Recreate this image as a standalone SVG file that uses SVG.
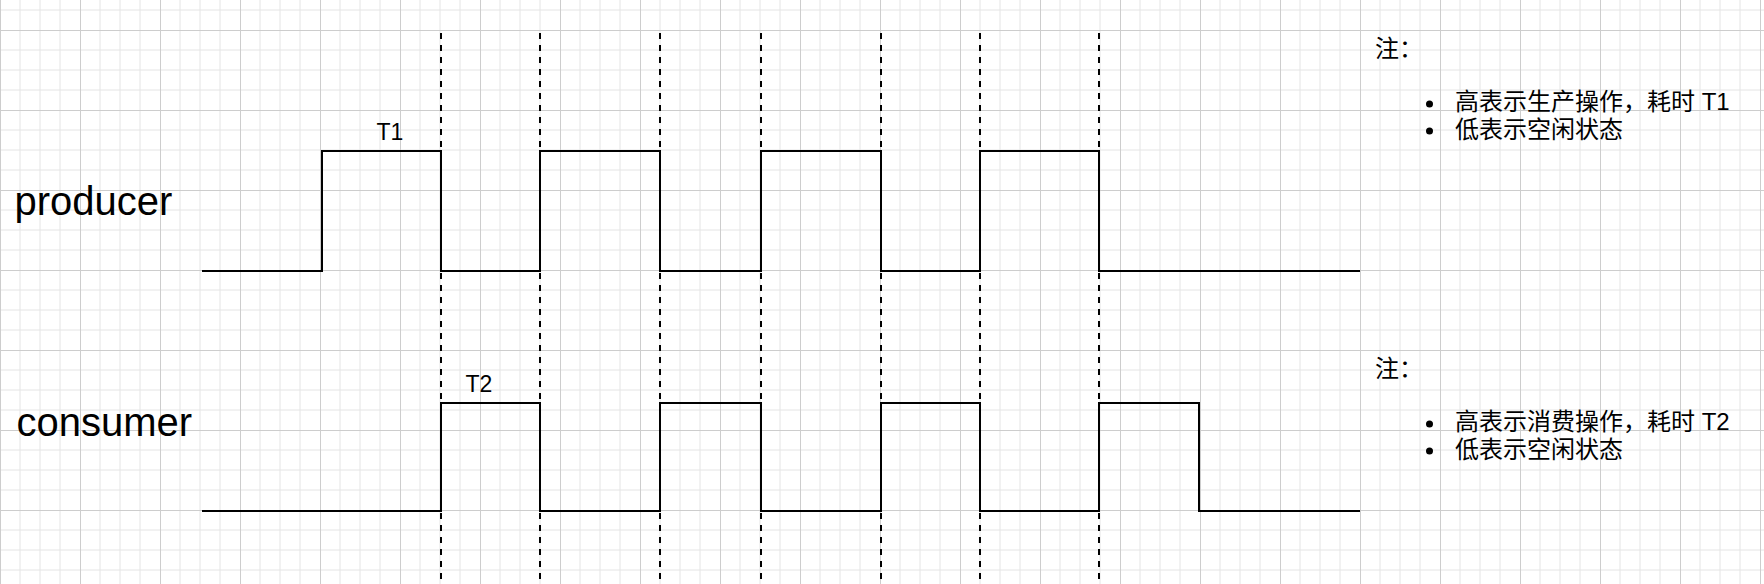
<svg xmlns="http://www.w3.org/2000/svg" width="1764" height="584" viewBox="0 0 1764 584">
  <style>
    .wave { fill: none; stroke: #000; stroke-width: 2; stroke-linejoin: miter; }
    .dash { fill: none; stroke: #000; stroke-width: 2; stroke-dasharray: 6 6; }
    .big { font-family: "Liberation Sans", Arial, sans-serif; font-size: 40px; fill: #000; }
    .tl { font-family: "Liberation Sans", Arial, sans-serif; font-size: 23px; fill: #000; }
    .note { font-family: "Liberation Sans", "Noto Sans CJK SC", sans-serif; font-size: 24px; fill: #000; }
    .minor { stroke: #e4e4e4; stroke-width: 1; }
    .major { stroke: #cdcdcd; stroke-width: 1; }
  </style>
  <defs>
    <pattern id="grid" patternUnits="userSpaceOnUse" x="0" y="30" width="80" height="80">
      <line class="minor" x1="20" y1="0" x2="20" y2="80"/>
      <line class="minor" x1="40" y1="0" x2="40" y2="80"/>
      <line class="minor" x1="60" y1="0" x2="60" y2="80"/>
      <line class="minor" x1="0" y1="20" x2="80" y2="20"/>
      <line class="minor" x1="0" y1="40" x2="80" y2="40"/>
      <line class="minor" x1="0" y1="60" x2="80" y2="60"/>
      <line class="major" x1="0.5" y1="0" x2="0.5" y2="80"/>
      <line class="major" x1="0" y1="0.5" x2="80" y2="0.5"/>
    </pattern>
  </defs>
  <rect x="0" y="0" width="1764" height="584" fill="#fff"/>
  <rect x="0" y="0" width="1764" height="584" fill="url(#grid)"/>

  <g id="connectors">
    <polyline id="producer-wave" class="wave" points="202,271 322,271 322,151 441,151 441,271 540,271 540,151 660,151 660,271 761,271 761,151 881,151 881,271 980,271 980,151 1099,151 1099,271 1360,271"/>
    <polyline id="consumer-wave" class="wave" points="202,511 441,511 441,403 540,403 540,511 660,511 660,403 761,403 761,511 881,511 881,403 980,403 980,511 1099,511 1099,403 1199,403 1199,511 1360,511"/>
    <line class="dash" x1="441" y1="33" x2="441" y2="584"/>
    <line class="dash" x1="540" y1="33" x2="540" y2="584"/>
    <line class="dash" x1="660" y1="33" x2="660" y2="584"/>
    <line class="dash" x1="761" y1="33" x2="761" y2="584"/>
    <line class="dash" x1="881" y1="33" x2="881" y2="584"/>
    <line class="dash" x1="980" y1="33" x2="980" y2="584"/>
    <line class="dash" x1="1099" y1="33" x2="1099" y2="584"/>
  </g>

  <g id="producer-label">
    <text class="big" x="14.5" y="215">producer</text>
  </g>
  <g id="consumer-label">
    <text class="big" x="16.5" y="436">consumer</text>
  </g>
  <g id="t1-label">
    <text class="tl" x="376.5" y="139.5">T1</text>
  </g>
  <g id="t2-label">
    <text class="tl" x="465.5" y="391.5">T2</text>
  </g>

  <g id="producer-note">
    <text class="note" x="1375" y="57">注：</text>
    <circle cx="1429.5" cy="104" r="3.5" fill="#000"/>
    <text class="note" x="1455" y="110">高表示生产操作，耗时 T1</text>
    <circle cx="1429.5" cy="131" r="3.5" fill="#000"/>
    <text class="note" x="1455" y="138">低表示空闲状态</text>
  </g>
  <g id="consumer-note">
    <text class="note" x="1375" y="377">注：</text>
    <circle cx="1429.5" cy="424" r="3.5" fill="#000"/>
    <text class="note" x="1455" y="430">高表示消费操作，耗时 T2</text>
    <circle cx="1429.5" cy="451" r="3.5" fill="#000"/>
    <text class="note" x="1455" y="458">低表示空闲状态</text>
  </g>
</svg>
